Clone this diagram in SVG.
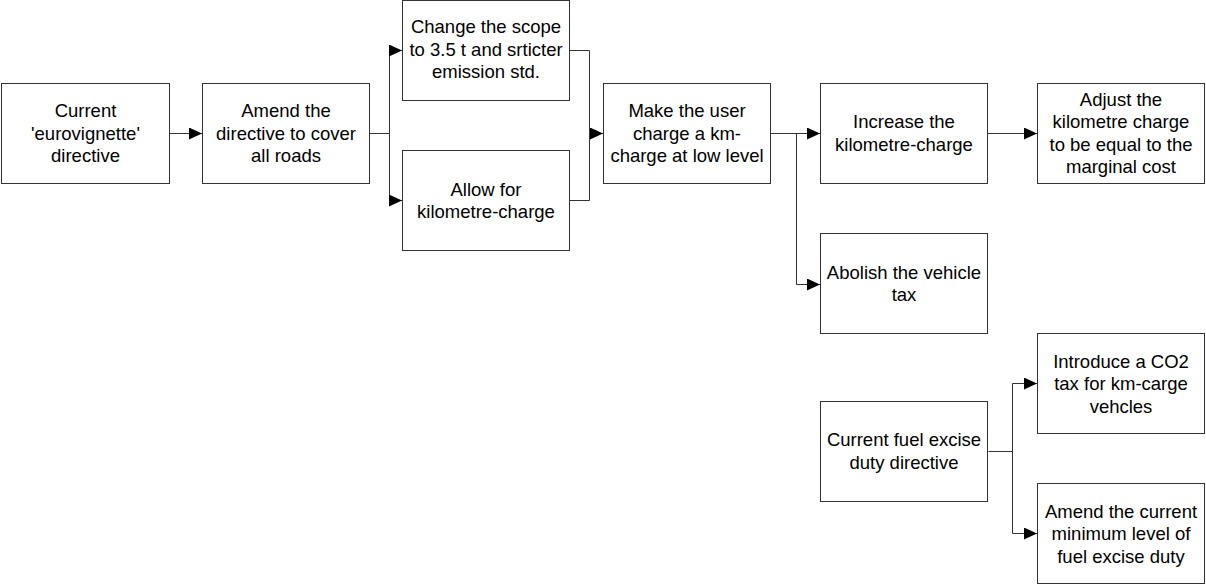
<svg xmlns="http://www.w3.org/2000/svg" width="1206" height="584" viewBox="0 0 1206 584">
<style>
.box{fill:#fff;stroke:#333;stroke-width:1}
.t{font-family:"Liberation Sans",Arial,sans-serif;font-size:18.5px;fill:#000;text-anchor:middle}
.c{fill:none;stroke:#333;stroke-width:1}
</style>
<defs>
<marker id="ah" markerWidth="13" markerHeight="12" refX="13" refY="6" orient="auto" markerUnits="userSpaceOnUse"><path d="M0,0 L13,6 L0,12 z" fill="#000"/></marker>
</defs>
<rect width="1206" height="584" fill="#fff"/>
<g id="connectors">
<path class="c" d="M169.5,133.5 H202" marker-end="url(#ah)"/>
<path class="c" d="M369.5,133.5 H389.5 V50.5 H402" marker-end="url(#ah)"/>
<path class="c" d="M389.5,133.5 V200.5 H402" marker-end="url(#ah)"/>
<path class="c" d="M569.5,50.5 H589.5 V133.5 H603" marker-end="url(#ah)"/>
<path class="c" d="M569.5,200.5 H589.5 V133.5"/>
<path class="c" d="M770.5,133.5 H820" marker-end="url(#ah)"/>
<path class="c" d="M796.5,133.5 V284.5 H820" marker-end="url(#ah)"/>
<path class="c" d="M987.5,133.5 H1037" marker-end="url(#ah)"/>
<path class="c" d="M988.5,451.5 H1012.5 V383.5 H1037" marker-end="url(#ah)"/>
<path class="c" d="M1012.5,451.5 V533.5 H1037" marker-end="url(#ah)"/>
</g>
<g id="n1"><rect class="box" x="1.5" y="83.5" width="168" height="100"/>
<text class="t" x="85.5"><tspan x="85.5" y="117">Current</tspan><tspan x="85.5" y="139.5">'eurovignette'</tspan><tspan x="85.5" y="162">directive</tspan></text></g>
<g id="n2"><rect class="box" x="202.5" y="83.5" width="167" height="100"/>
<text class="t"><tspan x="286" y="117">Amend the</tspan><tspan x="286" y="139.5">directive to cover</tspan><tspan x="286" y="162">all roads</tspan></text></g>
<g id="n3"><rect class="box" x="402.5" y="0.5" width="167" height="100"/>
<text class="t"><tspan x="486" y="33">Change the scope</tspan><tspan x="486" y="55.5">to 3.5 t and srticter</tspan><tspan x="486" y="78">emission std.</tspan></text></g>
<g id="n4"><rect class="box" x="402.5" y="150.5" width="167" height="100"/>
<text class="t"><tspan x="486" y="195.5">Allow for</tspan><tspan x="486" y="218">kilometre-charge</tspan></text></g>
<g id="n5"><rect class="box" x="603.5" y="83.5" width="167" height="100"/>
<text class="t"><tspan x="687" y="117">Make the user</tspan><tspan x="687" y="139.5">charge a km-</tspan><tspan x="687" y="162">charge at low level</tspan></text></g>
<g id="n6"><rect class="box" x="820.5" y="83.5" width="167" height="100"/>
<text class="t"><tspan x="904" y="128">Increase the</tspan><tspan x="904" y="150.5">kilometre-charge</tspan></text></g>
<g id="n7"><rect class="box" x="1037.5" y="83.5" width="167" height="100"/>
<text class="t"><tspan x="1121" y="105.5">Adjust the</tspan><tspan x="1121" y="128">kilometre charge</tspan><tspan x="1121" y="150.5">to be equal to the</tspan><tspan x="1121" y="173">marginal cost</tspan></text></g>
<g id="n8"><rect class="box" x="820.5" y="233.5" width="167" height="100"/>
<text class="t"><tspan x="904" y="278.5">Abolish the vehicle</tspan><tspan x="904" y="301">tax</tspan></text></g>
<g id="n9"><rect class="box" x="820.5" y="401.5" width="167" height="100"/>
<text class="t"><tspan x="904" y="446">Current fuel excise</tspan><tspan x="904" y="468.5">duty directive</tspan></text></g>
<g id="n10"><rect class="box" x="1037.5" y="333.5" width="167" height="100"/>
<text class="t"><tspan x="1121" y="367.5">Introduce a CO2</tspan><tspan x="1121" y="390">tax for km-carge</tspan><tspan x="1121" y="412.5">vehcles</tspan></text></g>
<g id="n11"><rect class="box" x="1037.5" y="483.5" width="167" height="100"/>
<text class="t"><tspan x="1121" y="517.5">Amend the current</tspan><tspan x="1121" y="540">minimum level of</tspan><tspan x="1121" y="562.5">fuel excise duty</tspan></text></g>
</svg>
